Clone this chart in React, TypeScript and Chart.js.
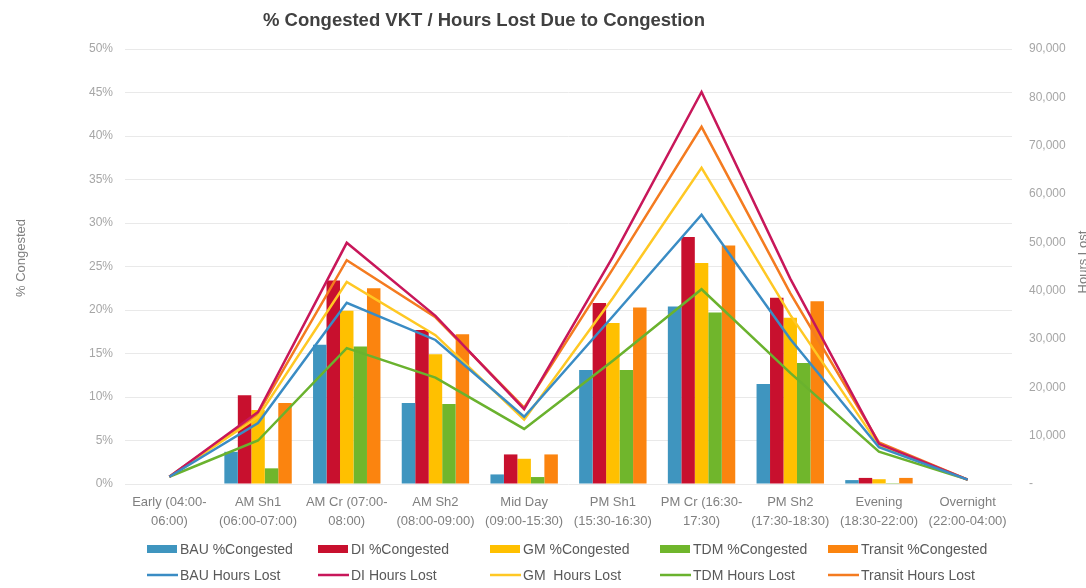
import React, { useEffect, useRef } from "react";
import { Chart, registerables } from "chart.js";

Chart.register(...registerables);

const categories: string[][] = [
  ["Early (04:00-", "06:00)"],
  ["AM Sh1", "(06:00-07:00)"],
  ["AM Cr (07:00-", "08:00)"],
  ["AM Sh2", "(08:00-09:00)"],
  ["Mid Day", "(09:00-15:30)"],
  ["PM Sh1", "(15:30-16:30)"],
  ["PM Cr (16:30-", "17:30)"],
  ["PM Sh2", "(17:30-18:30)"],
  ["Evening", "(18:30-22:00)"],
  ["Overnight", "(22:00-04:00)"],
];

const bauPct = [0, 3.7, 16.0, 9.3, 1.1, 13.1, 20.4, 11.5, 0.45, 0];
const diPct = [0, 10.2, 23.4, 17.7, 3.4, 20.8, 28.4, 21.4, 0.7, 0];
const gmPct = [0, 8.5, 19.9, 14.9, 2.9, 18.5, 25.4, 19.1, 0.55, 0];
const tdmPct = [0, 1.8, 15.8, 9.2, 0.8, 13.1, 19.7, 13.9, 0.1, 0];
const transitPct = [0, 9.3, 22.5, 17.2, 3.4, 20.3, 27.4, 21.0, 0.7, 0];

const bauHours = [1500, 12600, 37500, 29800, 13900, 34700, 55700, 30000, 7600, 900];
const diHours = [1500, 14900, 49900, 34800, 15500, 47000, 81100, 42500, 8300, 900];
const gmHours = [1500, 13900, 41800, 30800, 13300, 38500, 65400, 35000, 8000, 900];
const tdmHours = [1500, 9000, 28100, 22000, 11400, 25500, 40300, 23000, 6700, 900];
const transitHours = [1500, 14600, 46300, 34500, 15800, 44500, 73900, 39500, 8600, 900];

const pctTicks = [0, 5, 10, 15, 20, 25, 30, 35, 40, 45, 50];
const hourTicks = [0, 10000, 20000, 30000, 40000, 50000, 60000, 70000, 80000, 90000];

const TITLE = "% Congested VKT / Hours Lost Due to Congestion";
const LEFT_TITLE = "% Congested";
const RIGHT_TITLE = "Hours Lost";

const barColors = ["#3f95bf", "#c8102e", "#ffc000", "#70b62c", "#fb840f"];
const lineColors = ["#3a8cc4", "#c8175a", "#ffc824", "#6ab22e", "#f47b20"];

const FONT = "'Liberation Sans', Arial, sans-serif";

const overlayPlugin = {
  id: "overlay",
  afterDraw(chart: any) {
    const ctx = chart.ctx as CanvasRenderingContext2D;
    ctx.save();
    // Title
    ctx.fillStyle = "#404040";
    ctx.font = `bold 18.5px ${FONT}`;
    ctx.textAlign = "center";
    ctx.textBaseline = "middle";
    ctx.fillText(TITLE, 484, 21);
    // Axis titles
    ctx.fillStyle = "#7f7f7f";
    ctx.font = `13px ${FONT}`;
    ctx.save();
    ctx.translate(21, 258);
    ctx.rotate(-Math.PI / 2);
    ctx.fillText(LEFT_TITLE, 0, 0);
    ctx.restore();
    ctx.save();
    ctx.translate(1083, 262);
    ctx.rotate(-Math.PI / 2);
    ctx.fillText(RIGHT_TITLE, 0, 0);
    ctx.restore();
    // Legend
    const colX = [147, 318, 490, 660, 828];
    const rowY = [549, 575];
    ctx.font = `14px ${FONT}`;
    ctx.textAlign = "left";
    ctx.textBaseline = "middle";
    chart.data.datasets.forEach((ds: any, i: number) => {
      const row = ds.type === "bar" ? 0 : 1;
      const col = i % 5;
      const x = colX[col];
      const y = rowY[row];
      if (row === 0) {
        ctx.fillStyle = ds.backgroundColor;
        ctx.fillRect(x, y - 4, 30, 8);
      } else {
        ctx.strokeStyle = ds.borderColor;
        ctx.lineWidth = 2.5;
        ctx.beginPath();
        ctx.moveTo(x, y);
        ctx.lineTo(x + 31, y);
        ctx.stroke();
      }
      ctx.fillStyle = "#595959";
      ctx.fillText(ds.label, x + 33, y + 1);
    });
    ctx.restore();
  },
};

export default function App() {
  const ref = useRef<HTMLCanvasElement | null>(null);

  useEffect(() => {
    if (!ref.current) return;
    const names = ["BAU", "DI", "GM", "TDM", "Transit"];
    const pcts = [bauPct, diPct, gmPct, tdmPct, transitPct];
    const hours = [bauHours, diHours, gmHours, tdmHours, transitHours];
    const lineNames = ["BAU Hours Lost", "DI Hours Lost", "GM  Hours Lost", "TDM Hours Lost", "Transit Hours Lost"];
    const barSets = names.map((n, i) => ({
      type: "bar" as const,
      label: `${n} %Congested`,
      data: pcts[i],
      backgroundColor: barColors[i],
      borderWidth: 0,
      yAxisID: "y",
      order: 2,
      categoryPercentage: 0.76,
      barPercentage: 1.0,
    }));
    const lineSets = names.map((n, i) => ({
      type: "line" as const,
      label: lineNames[i],
      data: hours[i],
      borderColor: lineColors[i],
      backgroundColor: lineColors[i],
      borderWidth: 2.5,
      pointRadius: 0,
      tension: 0,
      fill: false,
      yAxisID: "y1",
      order: 1,
    }));

    const chart = new Chart(ref.current, {
      type: "bar",
      data: {
        labels: categories,
        datasets: [...barSets, ...lineSets] as any,
      },
      options: {
        responsive: false,
        animation: false,
        devicePixelRatio: 1,
        layout: { padding: { top: 49, left: 0, right: 0, bottom: 0 } },
        plugins: {
          legend: { display: false },
          title: { display: false },
          tooltip: { enabled: false },
        },
        scales: {
          x: {
            grid: { display: false, drawTicks: false },
            border: { display: false },
            ticks: {
              color: "#7f7f7f",
              font: { family: FONT, size: 13, lineHeight: 1.45 },
              maxRotation: 0,
              autoSkip: false,
              padding: 9,
            },
            afterFit: (s: any) => {
              s.height = 104;
            },
          },
          y: {
            position: "left",
            min: 0,
            max: 50,
            afterBuildTicks: (s: any) => {
              s.ticks = pctTicks.map((v) => ({ value: v }));
            },
            ticks: {
              color: "#a6a6a6",
              font: { family: FONT, size: 12 },
              padding: 12,
              callback: (v: any) => `${v}%`,
            },
            grid: { color: "#e9e9e9", drawTicks: false, lineWidth: 1 },
            border: { display: false },
            afterFit: (s: any) => {
              s.width = 125;
            },
          },
          y1: {
            position: "right",
            min: 0,
            max: 90000,
            afterBuildTicks: (s: any) => {
              s.ticks = hourTicks.map((v) => ({ value: v }));
            },
            ticks: {
              color: "#a6a6a6",
              font: { family: FONT, size: 12 },
              padding: 17,
              callback: (v: any) => (v === 0 ? "-" : Number(v).toLocaleString("en-US")),
            },
            grid: { display: false, drawTicks: false },
            border: { display: false },
            afterFit: (s: any) => {
              s.width = 74;
            },
          },
        },
      },
      plugins: [overlayPlugin],
    } as any);
    return () => chart.destroy();
  }, []);

  return (
    <div style={{ position: "fixed", left: 0, top: 0, width: 1086, height: 588, background: "#fff", overflow: "hidden" }}>
      <canvas ref={ref} width={1086} height={588} style={{ width: 1086, height: 588, display: "block" }} />
    </div>
  );
}
